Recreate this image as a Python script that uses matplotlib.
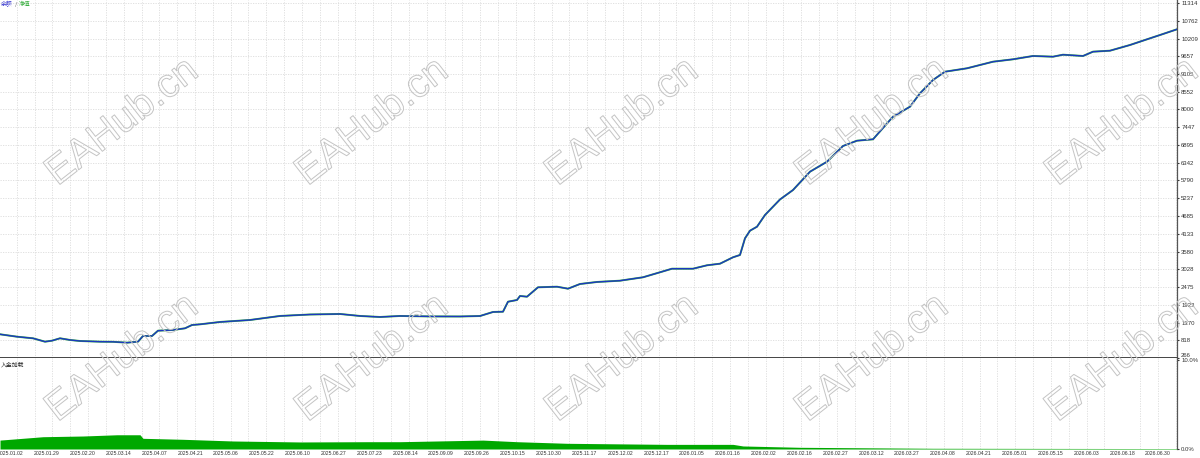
import numpy as np
import matplotlib
matplotlib.use("Agg")
import matplotlib.pyplot as plt
import matplotlib.patheffects as pe

plt.rcParams['font.family'] = ['Liberation Sans', 'Noto Sans CJK SC', 'DejaVu Sans']

# balance / equity curve, sampled by bar position
bars = [0, 17, 33, 45, 52, 60, 70, 80, 100, 113, 127, 138, 143, 152, 158, 173, 185, 192, 200,
        220, 250, 280, 310, 340, 360, 380, 400, 430, 460, 480, 493, 503, 508, 517, 520, 527,
        538, 557, 568, 580, 597, 620, 643, 660, 672, 693, 707, 720, 733, 740, 745, 750, 757,
        765, 780, 793, 810, 827, 843, 857, 873, 893, 910, 920, 933, 945, 967, 993, 1013, 1033,
        1053, 1063, 1083, 1093, 1110, 1130, 1147, 1160, 1177]
balance = [1004, 929, 879, 774, 805, 879, 827, 795, 774, 770, 743, 774, 951, 951, 1116, 1138,
           1190, 1293, 1314, 1387, 1449, 1574, 1620, 1636, 1574, 1542, 1574, 1560, 1558, 1573,
           1698, 1707, 2018, 2071, 2196, 2174, 2466, 2485, 2423, 2569, 2632, 2672, 2778, 2934,
           3045, 3045, 3151, 3201, 3400, 3472, 3991, 4228, 4352, 4717, 5200, 5494, 6064, 6375,
           6864, 7029, 7072, 7776, 8087, 8504, 8918, 9176, 9282, 9487, 9562, 9665, 9643, 9705,
           9665, 9799, 9830, 10007, 10184, 10318, 10496]
equity = balance

# deposit load (%)
load_bars = [0, 43, 83, 117, 140, 143, 183, 233, 300, 367, 400, 483, 517, 567, 667, 733, 743,
             800, 933, 1167, 1177]
load = [1.0, 1.38, 1.46, 1.6, 1.6, 1.2, 1.09, 0.9, 0.79, 0.82, 0.82, 1.0, 0.82, 0.64, 0.52,
        0.52, 0.34, 0.19, 0.08, 0.05, 0.05]

y_ticks = [266, 818, 1370, 1923, 2475, 3028, 3580, 4133, 4685, 5237, 5790, 6342, 6895, 7447,
           8000, 8552, 9105, 9657, 10209, 10762, 11314]
date_labels = ["2025.01.02", "2025.01.29", "2025.02.20", "2025.03.14", "2025.04.07",
               "2025.04.21", "2025.05.06", "2025.05.22", "2025.06.10", "2025.06.27",
               "2025.07.23", "2025.08.14", "2025.09.09", "2025.09.26", "2025.10.15",
               "2025.10.30", "2025.11.17", "2025.12.02", "2025.12.17", "2026.01.05",
               "2026.01.16", "2026.02.02", "2026.02.16", "2026.02.27", "2026.03.12",
               "2026.03.27", "2026.04.08", "2026.04.21", "2026.05.01", "2026.05.15",
               "2026.06.03", "2026.06.18", "2026.06.30"]

W, H = 1200, 458
fig = plt.figure(figsize=(W / 100, H / 100), dpi=100)
right = 1177 / W
ax = fig.add_axes([0, 1 - 358 / H, right, 358 / H])
ax2 = fig.add_axes([0, 9 / H, right, 91 / H])

grid_x = np.arange(16.7, 1177, 17.83)
tick_col = "#333333"
fs = 4.3
cjk = ['Noto Sans CJK SC', 'DejaVu Sans']

# main panel
ax.plot(bars, equity, color="#3cb043", lw=1.4, zorder=2)
ax.plot(bars, balance, color="#1c38c0", lw=1.0, zorder=3)
step = (y_ticks[-1] - y_ticks[0]) / 355
ax.set_ylim(y_ticks[0], y_ticks[-1] + 3 * step)
ax.set_xlim(0, 1177)
ax.set_yticks(y_ticks)
ax.yaxis.tick_right()
ax.tick_params(axis='y', length=1.5, pad=1.5, labelsize=fs, colors=tick_col)
ax.get_yticklabels()[0].set_va("bottom")
ax.set_xticks(grid_x)
ax.tick_params(axis='x', length=0, labelbottom=False)
ax.grid(True, color="#dcdcdc", lw=0.6, ls=(0, (1.5, 1.5)))
for s in ["top", "left"]:
    ax.spines[s].set_visible(False)
ax.spines["right"].set_color("#555555")
ax.spines["right"].set_linewidth(0.9)
ax.spines["bottom"].set_color("#444444")
ax.spines["bottom"].set_linewidth(1.4)

# legend text, offsets in pixels from the top-left corner
for px, txt, col in [(1, "余额", "#3a3ad0"), (14.5, "/", "#666666"), (18.5, "净值", "#3cb043")]:
    ax.annotate(txt, xy=(0, 1), xycoords="axes fraction", xytext=(px * 0.72, -1.2),
                textcoords="offset points", fontsize=4.2, color=col,
                va="top", ha="left", family=cjk)

# deposit load panel
ax2.fill_between(load_bars, 0, load, color="#00a800", lw=0, zorder=3)
ax2.set_xlim(0, 1177)
ax2.set_ylim(0, 10 + 2 / 8.9)
ax2.set_yticks([0, 10])
ax2.set_yticklabels(["0.0%", "10.0%"])
ax2.get_yticklabels()[1].set_va("top")
ax2.yaxis.tick_right()
ax2.tick_params(axis='y', length=1.5, pad=1.5, labelsize=fs, colors=tick_col)
ax2.set_xticks(grid_x, minor=True)
ax2.grid(True, which="minor", axis="x", color="#dcdcdc", lw=0.6, ls=(0, (1.5, 1.5)))
ax2.set_xticks(np.linspace(11, 1158, len(date_labels)))
ax2.set_xticklabels(date_labels)
ax2.tick_params(axis='x', which="both", length=0, pad=1.2, labelsize=3.7, colors=tick_col)
for s in ["top", "left", "bottom"]:
    ax2.spines[s].set_visible(False)
ax2.spines["right"].set_color("#555555")
ax2.spines["right"].set_linewidth(0.9)
ax2.annotate("入金加载", xy=(0, 1), xycoords="axes fraction", xytext=(0.7, -3),
             textcoords="offset points", fontsize=4.2, color="#222222",
             va="top", ha="left", family=cjk)

# watermark
for cy in [122, 358]:
    for cx in [122, 372, 622, 872, 1122]:
        fig.text(cx / W, 1 - cy / H, "EAHub.cn", fontsize=29, rotation=38,
                 ha="center", va="center", color=(1, 1, 1, 0), zorder=10,
                 path_effects=[pe.Stroke(linewidth=0.7, foreground="#c4c4c4")])

fig.savefig("out.png", dpi=100)
